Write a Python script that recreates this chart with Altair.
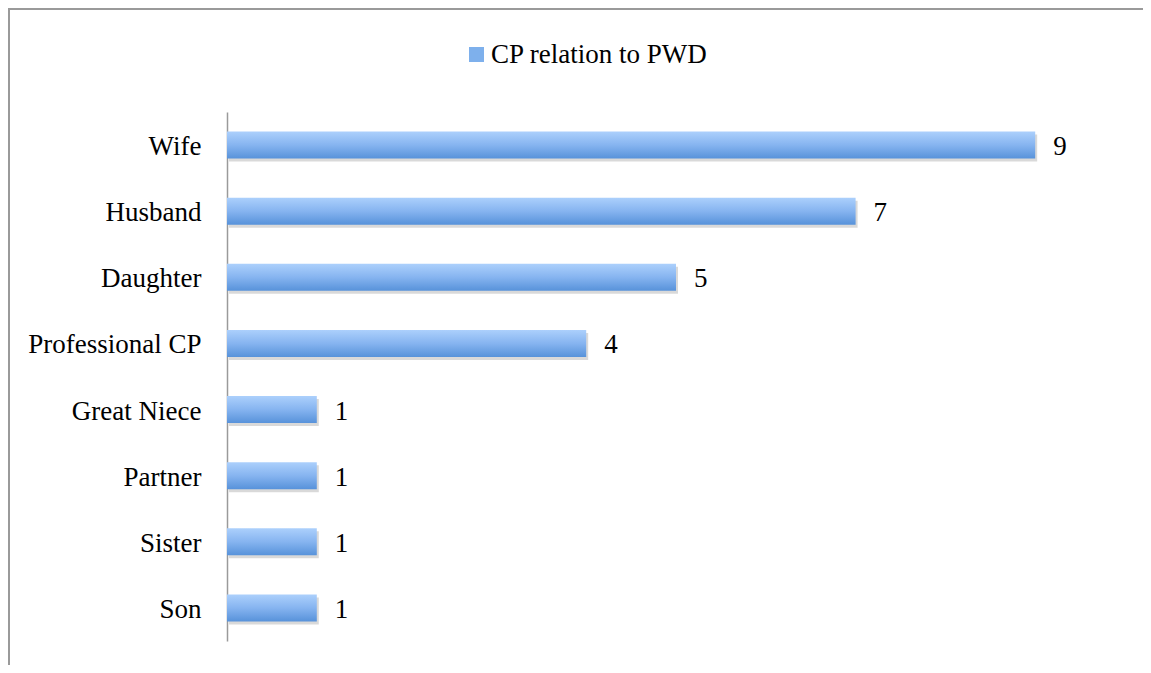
import altair as alt
import pandas as pd

categories = ["Wife", "Husband", "Daughter", "Professional CP", "Great Niece", "Partner", "Sister", "Son"]
values = [9, 7, 5, 4, 1, 1, 1, 1]
series_name = "CP relation to PWD"

df = pd.DataFrame({"relation": categories, "count": values, "series": series_name})

FONT = "Liberation Serif"
FS = 27

y_enc = alt.Y("relation:N", sort=categories,
              scale=alt.Scale(paddingInner=0.59, paddingOuter=0.295),
              axis=alt.Axis(title=None, ticks=False, domainColor="#9a9a9a", domainWidth=1.5,
                            labelFont=FONT, labelFontSize=FS, labelColor="#000",
                            labelPadding=26, labelOffset=2, grid=False))
x_enc = alt.X("count:Q", scale=alt.Scale(domain=[0, 10]), axis=None)

gradient = alt.Gradient(
    gradient="linear", x1=0, y1=0, x2=0, y2=1,
    stops=[alt.GradientStop(color="#acd0fc", offset=0),
           alt.GradientStop(color="#86b4f0", offset=0.5),
           alt.GradientStop(color="#5792da", offset=1)])

base = alt.Chart(df)

legend_layer = base.mark_bar(opacity=0).encode(
    y=y_enc, x=x_enc,
    fill=alt.Fill("series:N", scale=alt.Scale(range=["#7eb0ec"]),
                  legend=alt.Legend(title=None, orient="none", legendX=236, legendY=-71,
                                    symbolType="square", symbolSize=225, symbolStrokeWidth=0,
                                    symbolOpacity=1, labelLimit=400,
                                    labelFont=FONT, labelFontSize=FS, labelColor="#000",
                                    labelOffset=1, padding=0)))

shadow = base.mark_bar(color="#000000", opacity=0.15, xOffset=2, yOffset=3).encode(y=y_enc, x=x_enc)

bars = base.mark_bar(fill=gradient).encode(y=y_enc, x=x_enc)

labels = base.mark_text(align="left", baseline="middle", dx=18, dy=2, font=FONT, fontSize=FS, color="#000").encode(
    y=y_enc, x=x_enc, text="count:Q")

border_top = base.mark_rule(color="#9a9a9a", strokeWidth=2).encode(
    x=alt.value(-218), x2=alt.value(920), y=alt.value(-103))
border_left = base.mark_rule(color="#9a9a9a", strokeWidth=2).encode(
    x=alt.value(-218), y=alt.value(-104), y2=alt.value(560))

chart = alt.layer(legend_layer, shadow, bars, labels, border_top, border_left).properties(
    width=898, height=529,
    autosize=alt.AutoSizeParams(type="none"),
    padding={"left": 219, "top": 104, "right": 18, "bottom": 24},
    background="white",
).configure_view(stroke=None, strokeWidth=0)

chart.save("out.html", embed_options={"renderer": "svg", "actions": False})
